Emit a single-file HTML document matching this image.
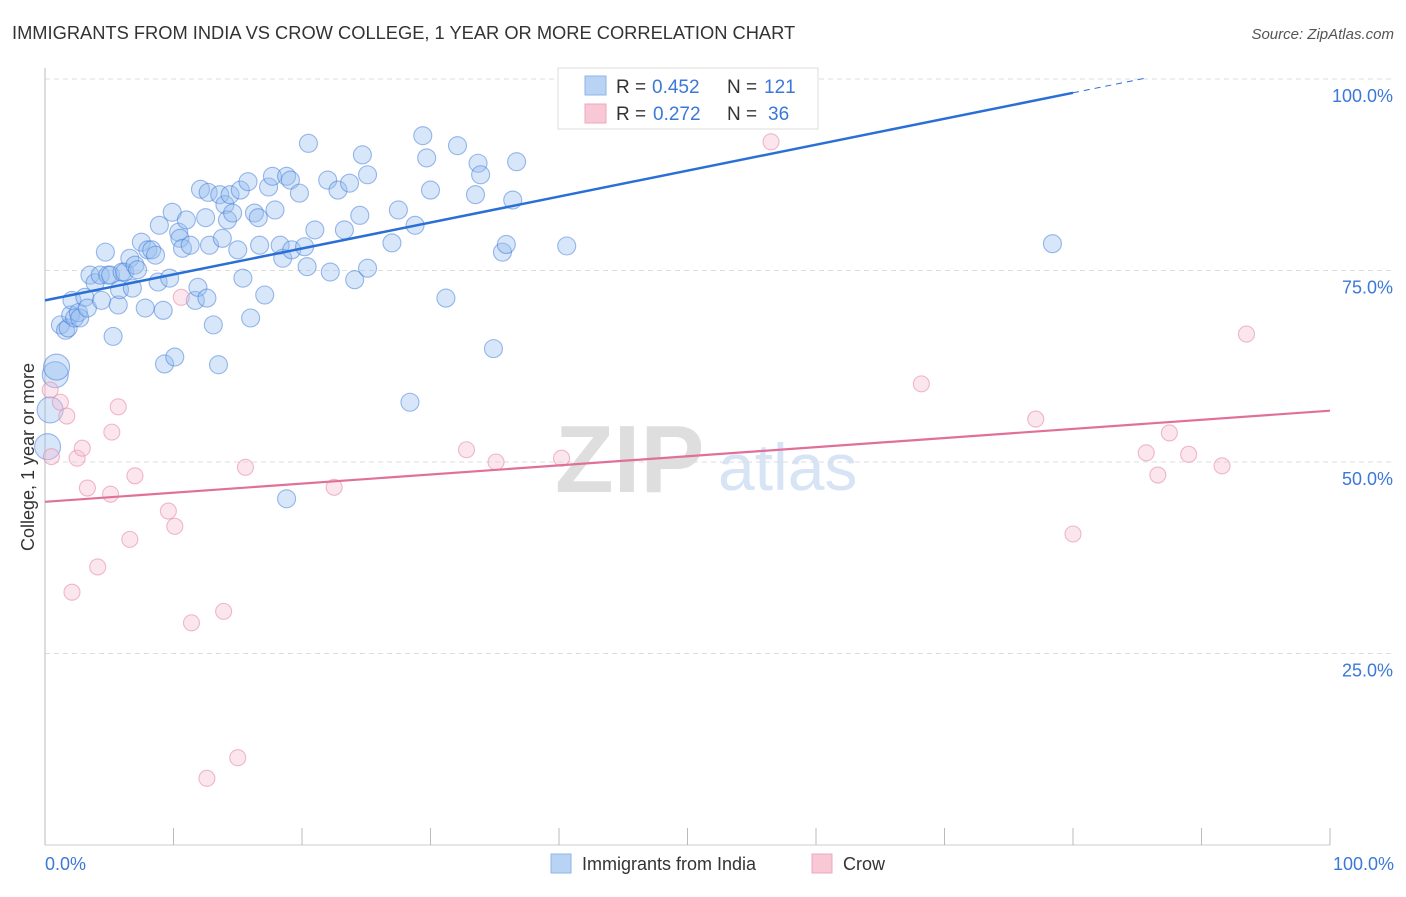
<!DOCTYPE html>
<html><head><meta charset="utf-8"><style>
body{margin:0;background:#fff;font-family:"Liberation Sans",sans-serif;}
svg text{font-family:"Liberation Sans",sans-serif;}
</style></head><body>
<svg id="c" width="1406" height="892" xmlns="http://www.w3.org/2000/svg">
<text x="12" y="39" font-size="18.3" fill="#333">IMMIGRANTS FROM INDIA VS CROW COLLEGE, 1 YEAR OR MORE CORRELATION CHART</text>
<text x="1394" y="39" font-size="15" fill="#555" font-style="italic" text-anchor="end">Source: ZipAtlas.com</text>
<text x="555" y="492" font-size="96" fill="#dedede" font-family="Liberation Serif" font-weight="bold">ZIP</text>
<text x="718" y="490" font-size="66" fill="#d6e4f6">atlas</text>
<g id="grid"></g>
<g id="axes"></g>
<g id="marks"></g>
<text transform="translate(34,457) rotate(-90)" font-size="18" fill="#333" text-anchor="middle">College, 1 year or more</text>
<text x="45" y="870" font-size="18" fill="#3b78d8">0.0%</text>
<text x="1394" y="870" font-size="18" fill="#3b78d8" text-anchor="end">100.0%</text>
<g>
<rect x="558" y="68" width="260" height="61" fill="#fff" stroke="#ddd"/>
<rect x="585" y="76" width="21" height="19" fill="#b9d3f5" stroke="#8fb4e6"/>
<rect x="585" y="104" width="21" height="19" fill="#f8c8d6" stroke="#eda9bd"/>
<text x="616" y="93" font-size="19" fill="#333">R =</text>
<text x="652" y="93" font-size="19" fill="#3b78d8">0.452</text>
<text x="727" y="93" font-size="19" fill="#333">N =</text>
<text x="764" y="93" font-size="19" fill="#3b78d8">121</text>
<text x="616" y="120" font-size="19" fill="#333">R =</text>
<text x="653" y="120" font-size="19" fill="#3b78d8">0.272</text>
<text x="727" y="120" font-size="19" fill="#333">N =</text>
<text x="768" y="120" font-size="19" fill="#3b78d8">36</text>
</g>
<g>
<rect x="551" y="854" width="20" height="19" fill="#b9d3f5" stroke="#8fb4e6"/>
<text x="582" y="870" font-size="18" fill="#333">Immigrants from India</text>
<rect x="812" y="854" width="20" height="19" fill="#f8c8d6" stroke="#eda9bd"/>
<text x="843" y="870" font-size="18" fill="#333">Crow</text>
</g>
</svg>
<script>
const yTicks=[0,25,50,75,100];
const yTickLabels=["","25.0%","50.0%","75.0%","100.0%"];
const xTicks=[0,10,20,30,40,50,60,70,80,90,100];
const indiaX=[0.2,0.8,0.9,0.4,1.2,1.6,1.8,2.0,2.1,2.3,2.6,2.7,3.1,3.3,3.5,3.9,4.3,4.4,4.7,4.9,5.1,5.3,5.7,5.8,6.0,6.2,6.6,6.8,7.0,7.2,7.5,7.8,8.0,8.3,8.6,8.8,8.9,9.2,9.3,9.7,9.9,10.1,10.4,10.5,10.7,11.0,11.3,11.7,11.9,12.1,12.5,12.6,12.7,12.8,13.1,13.5,13.6,13.8,14.0,14.2,14.4,14.6,15.0,15.2,15.4,15.8,16.0,16.3,16.6,16.7,17.1,17.4,17.7,17.9,18.3,18.5,18.8,19.1,19.2,19.8,20.2,20.4,20.5,21.0,22.0,22.2,22.8,23.3,23.7,24.1,24.5,24.7,25.1,25.1,27.0,27.5,28.4,28.8,29.4,29.7,30.0,31.2,32.1,33.5,33.7,33.9,34.9,35.6,35.9,36.4,36.7,40.6,78.4,18.8];
const indiaY=[52.0,61.4,62.4,56.8,67.9,67.2,67.5,69.2,71.1,68.8,69.5,68.8,71.5,70.1,74.4,73.4,74.4,71.1,77.4,74.4,74.4,66.4,70.5,72.5,74.8,74.8,76.6,72.7,75.7,75.1,78.7,70.1,77.7,77.7,77.0,73.5,80.9,69.8,62.8,74.0,82.6,63.7,80.0,79.2,77.9,81.6,78.3,71.1,72.8,85.6,81.9,71.4,85.2,78.3,67.9,62.7,84.9,79.2,83.6,81.6,84.9,82.5,77.7,85.5,74.0,86.6,68.8,82.5,81.9,78.3,71.8,85.9,87.3,82.9,78.3,76.6,87.3,86.8,77.7,85.1,78.1,75.5,91.6,80.3,86.8,74.8,85.5,80.3,86.4,73.8,82.2,90.1,75.3,87.5,78.6,82.9,57.8,80.9,92.6,89.7,85.5,71.4,91.3,84.9,89.0,87.5,64.8,77.4,78.4,84.2,89.2,78.2,78.5,45.2];
const crowX=[0.4,0.5,1.2,1.7,2.1,2.5,2.9,3.3,4.1,5.1,5.2,5.7,6.6,7.0,9.6,10.1,10.6,11.4,12.6,13.9,15.0,15.6,22.5,32.8,35.1,40.2,56.5,68.2,77.1,80.0,85.7,86.6,87.5,89.0,91.6,93.5];
const crowY=[59.4,50.7,57.8,56.0,33.0,50.5,51.8,46.6,36.3,45.8,53.9,57.2,39.9,48.2,43.6,41.6,71.5,29.0,8.7,30.5,11.4,49.3,46.7,51.6,50.0,50.5,91.8,60.2,55.6,40.6,51.2,48.3,53.8,51.0,49.5,66.7];
const indiaTrend=[71.1,98.2];
const crowTrend=[44.8,56.7];
const NS="http://www.w3.org/2000/svg";
const X0=45,X1=1330,Y0=845,Y1=79;
const sx=v=>X0+(X1-X0)*v/100;
const sy=v=>Y0-(Y0-Y1)*v/100;
function mk(tag,attrs,parent){const e=document.createElementNS(NS,tag);for(const k in attrs)e.setAttribute(k,attrs[k]);document.getElementById(parent).appendChild(e);return e;}
yTicks.forEach((t,i)=>{
  if(t>0){const g=mk('line',{x1:X0,x2:1393,y1:sy(t),y2:sy(t),stroke:'#ddd','stroke-dasharray':'5,4'},'grid');
  
  
  const l=mk('text',{x:1393,y:sy(t)+23,'font-size':18,fill:'#3b78d8','text-anchor':'end'},'grid');l.textContent=yTickLabels[i];
  
  }
});
const ax=mk('line',{x1:X0,x2:X0,y1:68,y2:Y0,stroke:'#bbb'},'axes');


const bx=mk('line',{x1:X0,x2:X1,y1:Y0,y2:Y0,stroke:'#ccc'},'axes');


xTicks.forEach(t=>{const e=mk('line',{x1:sx(t),x2:sx(t),y1:828,y2:Y0,stroke:'#bbb'},'axes');
  
  });
indiaX.forEach((x,i)=>{const r=x<1.5&&indiaY[i]<63?13:9;
  const c=mk('circle',{cx:sx(x),cy:sy(indiaY[i]),r:r,fill:'rgba(150,190,240,0.38)',stroke:'rgba(60,120,215,0.5)','stroke-width':1.1},'marks');
  
  });
crowX.forEach((x,i)=>{const c=mk('circle',{cx:sx(x),cy:sy(crowY[i]),r:8,fill:'rgba(248,190,210,0.38)',stroke:'rgba(230,140,170,0.6)','stroke-width':1.1},'marks');
  
  });
const slope=(indiaTrend[1]-indiaTrend[0])/80;
const t1=mk('line',{x1:sx(0),y1:sy(indiaTrend[0]),x2:sx(80),y2:sy(indiaTrend[1]),stroke:'#2a6fd6','stroke-width':2.5},'marks');


const t2=mk('line',{x1:sx(80),y1:sy(indiaTrend[1]),x2:sx(85.6),y2:sy(indiaTrend[0]+slope*85.6),stroke:'#2a6fd6','stroke-width':1,'stroke-dasharray':'6,5'},'marks');


const t3=mk('line',{x1:sx(0),y1:sy(crowTrend[0]),x2:sx(100),y2:sy(crowTrend[1]),stroke:'#e0709a','stroke-width':2.2},'marks');


</script>
</body></html>
